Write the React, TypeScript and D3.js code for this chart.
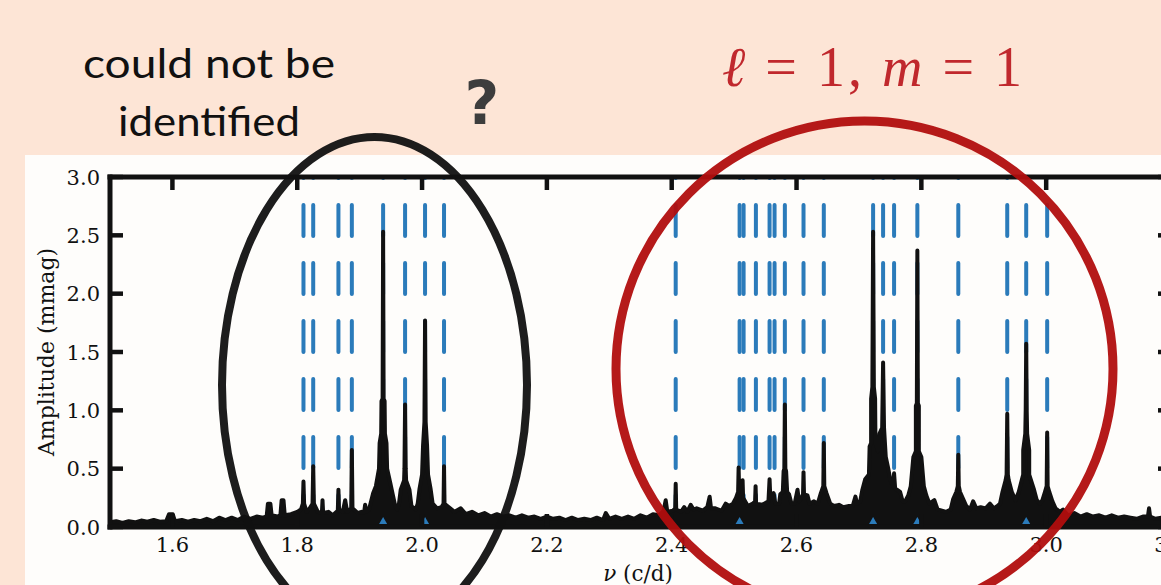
import { useEffect, useRef } from 'react';
import * as d3 from 'd3';

const xTicks = [1.6, 1.8, 2.0, 2.2, 2.4, 2.6, 2.8, 3.0, 3.2];
const yTicks = [0.0, 0.5, 1.0, 1.5, 2.0, 2.5, 3.0];

// frequencies of the model modes (blue dashed lines)
const modeFreqs = [
  1.81, 1.8256, 1.866, 1.8875, 1.9376, 1.9728, 2.0048, 2.0352,
  2.4064, 2.5088, 2.5152, 2.5349, 2.5568, 2.5648, 2.5813, 2.6112, 2.6437,
  2.7227, 2.7387, 2.7563, 2.7936, 2.8592, 2.9376, 2.968, 3.0016,
];

// small triangle markers at the bottom
const markerFreqs = [1.9376, 2.0048, 2.5088, 2.7227, 2.7936, 2.968];

// amplitude spectrum outline, [frequency (c/d), amplitude (mmag)]
const spectrum: [number, number][] = [
  [1.5, 0.04], [1.51, 0.05], [1.52, 0.035], [1.53, 0.05], [1.54, 0.04], [1.55, 0.055],
  [1.56, 0.045], [1.57, 0.06], [1.58, 0.045], [1.59, 0.05], [1.5945, 0.11], [1.6005, 0.11],
  [1.604, 0.05], [1.615, 0.06], [1.625, 0.045], [1.635, 0.06], [1.645, 0.05], [1.655, 0.07],
  [1.665, 0.05], [1.675, 0.08], [1.685, 0.06], [1.695, 0.08], [1.705, 0.06], [1.715, 0.09],
  [1.725, 0.07], [1.735, 0.09], [1.745, 0.08], [1.751, 0.09], [1.753, 0.2], [1.757, 0.2],
  [1.759, 0.1], [1.768, 0.09], [1.773, 0.1], [1.775, 0.23], [1.778, 0.23], [1.78, 0.1],
  [1.79, 0.11], [1.8, 0.13], [1.806, 0.15], [1.809, 0.2], [1.81, 0.39], [1.811, 0.2],
  [1.815, 0.13], [1.82, 0.16], [1.8245, 0.2], [1.8256, 0.52], [1.8267, 0.2], [1.833, 0.13],
  [1.8395, 0.12], [1.8405, 0.23], [1.8415, 0.12], [1.85, 0.13], [1.857, 0.1], [1.865, 0.14],
  [1.866, 0.32], [1.867, 0.15], [1.873, 0.13], [1.8768, 0.23], [1.88, 0.13], [1.8865, 0.16],
  [1.8875, 0.66], [1.8885, 0.16], [1.897, 0.12], [1.903, 0.13], [1.907, 0.12], [1.9088, 0.19],
  [1.911, 0.13], [1.915, 0.15], [1.9216, 0.29], [1.926, 0.35], [1.931, 0.5], [1.932, 0.72],
  [1.9345, 0.8], [1.935, 1.08], [1.9368, 1.1], [1.9376, 2.53], [1.9384, 1.1], [1.94, 1.08],
  [1.9405, 0.8], [1.943, 0.72], [1.944, 0.5], [1.949, 0.38], [1.953, 0.28], [1.957, 0.18],
  [1.96, 0.15], [1.963, 0.2], [1.9658, 0.32], [1.9712, 0.4], [1.9718, 0.5], [1.9728, 1.05],
  [1.9738, 0.5], [1.9744, 0.4], [1.9798, 0.32], [1.983, 0.18], [1.99, 0.15], [1.993, 0.2],
  [1.996, 0.33], [2.0, 0.45], [2.0016, 0.7], [2.0038, 0.9], [2.0048, 1.77], [2.0058, 0.9],
  [2.008, 0.7], [2.0096, 0.45], [2.0136, 0.33], [2.017, 0.2], [2.024, 0.16], [2.031, 0.17],
  [2.0344, 0.2], [2.0352, 0.52], [2.036, 0.2], [2.045, 0.16], [2.052, 0.13], [2.062, 0.16],
  [2.07, 0.11], [2.08, 0.13], [2.09, 0.1], [2.1, 0.12], [2.11, 0.09], [2.12, 0.11],
  [2.13, 0.09], [2.14, 0.1], [2.15, 0.08], [2.16, 0.1], [2.17, 0.08], [2.18, 0.09],
  [2.19, 0.07], [2.2, 0.09], [2.21, 0.07], [2.22, 0.08], [2.23, 0.06], [2.24, 0.08],
  [2.25, 0.06], [2.26, 0.07], [2.27, 0.06], [2.28, 0.08], [2.29, 0.06], [2.2944, 0.12],
  [2.3, 0.07], [2.31, 0.09], [2.32, 0.07], [2.33, 0.09], [2.34, 0.07], [2.35, 0.1],
  [2.36, 0.08], [2.37, 0.11], [2.38, 0.1], [2.387, 0.14], [2.3904, 0.23], [2.393, 0.13],
  [2.402, 0.14], [2.4056, 0.16], [2.4064, 0.37], [2.4072, 0.15], [2.415, 0.13], [2.42, 0.17],
  [2.425, 0.13], [2.4304, 0.19], [2.435, 0.15], [2.44, 0.16], [2.45, 0.14], [2.457, 0.17],
  [2.4608, 0.26], [2.463, 0.16], [2.47, 0.16], [2.475, 0.15], [2.48, 0.14], [2.4864, 0.2],
  [2.492, 0.18], [2.498, 0.2], [2.503, 0.25], [2.5064, 0.3], [2.5072, 0.51], [2.508, 0.33],
  [2.5128, 0.33], [2.5136, 0.4], [2.5144, 0.25], [2.522, 0.18], [2.53, 0.2], [2.5336, 0.22],
  [2.5344, 0.35], [2.5352, 0.2], [2.545, 0.19], [2.555, 0.22], [2.5568, 0.41], [2.558, 0.25],
  [2.5632, 0.29], [2.566, 0.2], [2.572, 0.2], [2.574, 0.28], [2.578, 0.3], [2.5793, 0.48],
  [2.5805, 0.5], [2.5813, 1.05], [2.5821, 0.5], [2.5833, 0.48], [2.585, 0.3], [2.588, 0.28],
  [2.592, 0.2], [2.597, 0.2], [2.6016, 0.32], [2.604, 0.22], [2.608, 0.25], [2.6104, 0.28],
  [2.6112, 0.47], [2.612, 0.28], [2.6176, 0.27], [2.621, 0.2], [2.628, 0.22], [2.634, 0.2],
  [2.639, 0.29], [2.6429, 0.35], [2.6437, 0.72], [2.6445, 0.35], [2.648, 0.29], [2.654, 0.2],
  [2.66, 0.18], [2.668, 0.19], [2.675, 0.17], [2.684, 0.18], [2.69, 0.18], [2.6944, 0.26],
  [2.697, 0.2], [2.702, 0.22], [2.7055, 0.32], [2.71, 0.41], [2.716, 0.45], [2.7171, 0.69],
  [2.7195, 0.72], [2.7195, 1.1], [2.7215, 1.2], [2.7227, 2.53], [2.7239, 1.2], [2.7259, 1.1],
  [2.7265, 0.72], [2.7283, 0.69], [2.7305, 0.65], [2.733, 0.8], [2.7372, 0.85], [2.7387, 1.41],
  [2.7402, 0.85], [2.743, 0.6], [2.747, 0.5], [2.75, 0.41], [2.7545, 0.35], [2.7563, 0.46],
  [2.758, 0.33], [2.766, 0.3], [2.77, 0.22], [2.774, 0.22], [2.779, 0.27], [2.783, 0.35],
  [2.7872, 0.6], [2.7912, 0.65], [2.7912, 1.04], [2.7928, 1.06], [2.7936, 2.37], [2.7944, 1.06],
  [2.796, 1.04], [2.796, 0.65], [2.8, 0.6], [2.804, 0.35], [2.808, 0.27], [2.813, 0.2],
  [2.8208, 0.23], [2.826, 0.15], [2.833, 0.14], [2.84, 0.13], [2.847, 0.15], [2.851, 0.24],
  [2.856, 0.3], [2.8584, 0.35], [2.8592, 0.62], [2.86, 0.35], [2.862, 0.3], [2.867, 0.24],
  [2.872, 0.18], [2.878, 0.15], [2.883, 0.22], [2.888, 0.16], [2.895, 0.17], [2.903, 0.16],
  [2.91, 0.2], [2.916, 0.16], [2.922, 0.18], [2.926, 0.2], [2.93, 0.3], [2.935, 0.4],
  [2.9366, 0.45], [2.9376, 0.97], [2.9386, 0.45], [2.94, 0.4], [2.945, 0.3], [2.951, 0.23],
  [2.956, 0.3], [2.9632, 0.45], [2.9632, 0.66], [2.9665, 0.8], [2.9672, 1.0], [2.968, 1.57],
  [2.9688, 1.0], [2.9695, 0.8], [2.9728, 0.66], [2.9728, 0.45], [2.98, 0.33], [2.985, 0.23],
  [2.99, 0.2], [2.994, 0.23], [2.998, 0.3], [3.0008, 0.35], [3.0016, 0.81], [3.0024, 0.35],
  [3.005, 0.3], [3.01, 0.22], [3.015, 0.16], [3.022, 0.13], [3.027, 0.15], [3.035, 0.1],
  [3.045, 0.12], [3.055, 0.09], [3.065, 0.11], [3.075, 0.09], [3.085, 0.1], [3.095, 0.08],
  [3.105, 0.1], [3.115, 0.08], [3.125, 0.09], [3.135, 0.08], [3.145, 0.07], [3.155, 0.09],
  [3.163, 0.09], [3.1648, 0.16], [3.1665, 0.09], [3.175, 0.07], [3.185, 0.08], [3.2, 0.07],
];

export default function App() {
  const svgRef = useRef<SVGSVGElement>(null);

  useEffect(() => {
    if (!svgRef.current) return;
    const W = 1161;
    const H = 585;
    const svg = d3.select(svgRef.current).attr('width', W).attr('height', H);
    svg.selectAll('*').remove();

    // slide background + white figure panel
    svg.append('rect').attr('width', W).attr('height', H).attr('fill', '#fde5d6');
    svg.append('rect').attr('x', 25).attr('y', 155).attr('width', W - 25).attr('height', H - 155).attr('fill', '#fefdfb');

    const x = d3.scaleLinear().domain([1.5, 3.2]).range([110, 1171]);
    const y = d3.scaleLinear().domain([0, 3]).range([527, 177]);
    const ink = '#111';
    const blue = '#2b7bba';

    svg.append('clipPath').attr('id', 'plot-clip')
      .append('rect').attr('x', x(1.5)).attr('y', y(3)).attr('width', x(3.2) - x(1.5)).attr('height', y(0) - y(3));

    const plot = svg.append('g').attr('clip-path', 'url(#plot-clip)');

    // mode lines
    plot.selectAll('.mode')
      .data(modeFreqs)
      .join('line')
      .attr('class', 'mode')
      .attr('x1', (d) => x(d)).attr('x2', (d) => x(d))
      .attr('y1', y(3)).attr('y2', y(0))
      .attr('stroke', blue)
      .attr('stroke-width', 4)
      .attr('stroke-linecap', 'round')
      .attr('stroke-dasharray', '31 27')
      .attr('stroke-dashoffset', 30);

    // spectrum
    const area = d3.area<[number, number]>().x((d) => x(d[0])).y0(y(0)).y1((d) => y(d[1]));
    const line = d3.line<[number, number]>().x((d) => x(d[0])).y((d) => y(d[1]));
    plot.append('path').datum(spectrum).attr('d', area).attr('fill', ink);
    plot.append('path').datum(spectrum).attr('d', line)
      .attr('fill', 'none').attr('stroke', ink).attr('stroke-width', 4).attr('stroke-linejoin', 'round');

    plot.selectAll('.marker')
      .data(markerFreqs)
      .join('path')
      .attr('class', 'marker')
      .attr('d', d3.symbol(d3.symbolTriangle, 28))
      .attr('transform', (d) => `translate(${x(d)},${y(0.045)})`)
      .attr('fill', blue);

    // spines and ticks
    const axes = svg.append('g').attr('stroke', ink).attr('stroke-width', 5).attr('stroke-linecap', 'square');
    axes.append('line').attr('x1', x(1.5)).attr('x2', x(3.2)).attr('y1', y(3)).attr('y2', y(3));
    axes.append('line').attr('x1', x(1.5)).attr('x2', x(3.2)).attr('y1', y(0)).attr('y2', y(0));
    axes.append('line').attr('x1', x(1.5)).attr('x2', x(1.5)).attr('y1', y(0)).attr('y2', y(3));
    axes.append('line').attr('x1', x(3.2)).attr('x2', x(3.2)).attr('y1', y(0)).attr('y2', y(3));

    const ticks = svg.append('g').attr('stroke', ink).attr('stroke-width', 4.5);
    xTicks.forEach((t) => {
      ticks.append('line').attr('x1', x(t)).attr('x2', x(t)).attr('y1', y(3)).attr('y2', y(3) + 13);
      ticks.append('line').attr('x1', x(t)).attr('x2', x(t)).attr('y1', y(0)).attr('y2', y(0) - 13);
    });
    yTicks.forEach((t) => {
      ticks.append('line').attr('x1', x(1.5)).attr('x2', x(1.5) + 13).attr('y1', y(t)).attr('y2', y(t));
      ticks.append('line').attr('x1', x(3.2)).attr('x2', x(3.2) - 13).attr('y1', y(t)).attr('y2', y(t));
    });

    const serif = '"DejaVu Serif", serif';
    svg.selectAll('.xlab')
      .data(xTicks)
      .join('text')
      .attr('class', 'xlab')
      .attr('x', (d) => x(d))
      .attr('y', 552)
      .attr('text-anchor', 'middle')
      .attr('font-family', serif)
      .attr('font-size', 21)
      .attr('fill', ink)
      .text((d) => d.toFixed(1));

    svg.selectAll('.ylab')
      .data(yTicks)
      .join('text')
      .attr('class', 'ylab')
      .attr('x', 100)
      .attr('y', (d) => y(d))
      .attr('dy', '0.36em')
      .attr('text-anchor', 'end')
      .attr('font-family', serif)
      .attr('font-size', 21)
      .attr('fill', ink)
      .text((d) => d.toFixed(1));

    svg.append('text')
      .attr('transform', `translate(54,352) rotate(-90)`)
      .attr('text-anchor', 'middle')
      .attr('font-family', serif)
      .attr('font-size', 22)
      .attr('fill', ink)
      .text('Amplitude (mmag)');

    const xl = svg.append('text')
      .attr('x', 638)
      .attr('y', 581)
      .attr('text-anchor', 'middle')
      .attr('font-family', serif)
      .attr('font-size', 21.5)
      .attr('fill', ink);
    xl.append('tspan').attr('font-style', 'italic').text('ν');
    xl.append('tspan').text(' (c/d)');

    // highlight ellipses
    svg.append('ellipse')
      .attr('cx', 374.5).attr('cy', 385).attr('rx', 152.5).attr('ry', 248)
      .attr('fill', 'none').attr('stroke', ink).attr('stroke-width', 8).attr('opacity', 0.95);
    svg.append('ellipse')
      .attr('cx', 864.5).attr('cy', 369).attr('rx', 248.5).attr('ry', 248)
      .attr('fill', 'none').attr('stroke', '#b10e0e').attr('stroke-width', 9).attr('opacity', 0.95);

    // annotations
    const sans = 'Lato, "DejaVu Sans", sans-serif';
    svg.append('text').attr('x', 83).attr('y', 78).attr('font-family', sans).attr('font-size', 41)
      .attr('textLength', 252).attr('lengthAdjust', 'spacingAndGlyphs').attr('fill', ink).text('could not be');
    svg.append('text').attr('x', 118).attr('y', 136).attr('font-family', sans).attr('font-size', 41)
      .attr('textLength', 182).attr('lengthAdjust', 'spacingAndGlyphs').attr('fill', ink).text('identified');
    svg.append('text').attr('x', 482).attr('y', 124).attr('text-anchor', 'middle')
      .attr('font-family', '"DejaVu Sans", sans-serif').attr('font-weight', 'bold').attr('font-size', 60)
      .attr('fill', '#3d3d3d').text('?');

    const lm = svg.append('text').attr('x', 722).attr('y', 86)
      .attr('font-family', '"Liberation Serif", serif').attr('font-size', 56)
      .attr('textLength', 300).attr('lengthAdjust', 'spacing').attr('fill', '#c0282d');
    lm.append('tspan').attr('font-style', 'italic').text('ℓ');
    lm.append('tspan').text(' = 1, ');
    lm.append('tspan').attr('font-style', 'italic').text('m');
    lm.append('tspan').text(' = 1');
  }, []);

  return <svg ref={svgRef} style={{ position: 'absolute', left: 0, top: 0, display: 'block' }} />;
}
